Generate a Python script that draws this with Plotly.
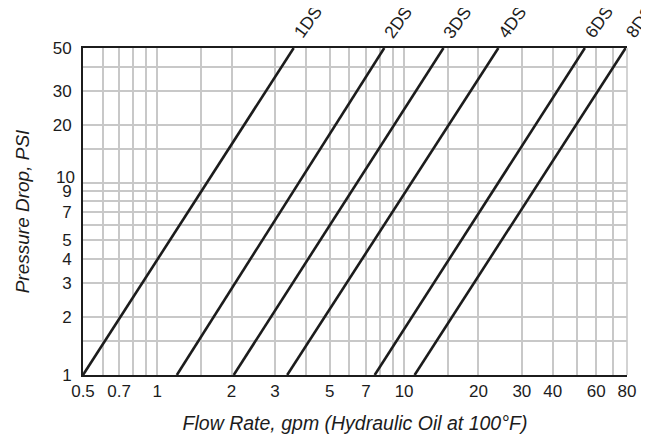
import math
import plotly.graph_objects as go

# ---- data ----
series_names = ["1DS", "2DS", "3DS", "4DS", "6DS", "8DS"]
flow_at_low = [0.5, 1.20, 2.04, 3.36, 7.6, 11.03]      # gpm at 1 PSI
flow_at_high = [3.57, 8.31, 14.44, 24.1, 54.0, 79.0]   # gpm at 50 PSI
pressure_ends = [1, 50]                                # PSI

x_tick_vals = [0.5, 0.7, 1, 2, 3, 5, 7, 10, 20, 30, 40, 60, 80]
x_tick_text = ["0.5", "0.7", "1", "2", "3", "5", "7", "10", "20", "30", "40", "60", "80"]
x_minor_vals = [0.6, 0.8, 0.9, 1.5, 4, 6, 8, 9, 15, 50, 70]
y_tick_vals = [1, 2, 3, 4, 5, 7, 9, 10, 20, 30, 50]
y_tick_text = ["1", "2", "3", "4", "5", "7", "9", "", "20", "30", "50"]
y_nudged_label = ("10", 10)   # drawn slightly above its grid line, as in the reference
y_minor_vals = [1.5, 6, 8, 15, 40]

FONT = "Liberation Sans, Arial, Helvetica, sans-serif"
GRID = "#c8c8c8"
INK = "#1c1c1c"

fig = go.Figure()
for name, x0, x1 in zip(series_names, flow_at_low, flow_at_high):
    fig.add_trace(go.Scatter(
        x=[x0, x1], y=pressure_ends, mode="lines", name=name,
        line=dict(color=INK, width=2.6), showlegend=False, hoverinfo="skip",
    ))
    fig.add_annotation(
        x=math.log10(x1), y=math.log10(pressure_ends[1]), xref="x", yref="y",
        text=name, showarrow=False, textangle=-54,
        xanchor="center", yanchor="middle", xshift=14, yshift=26,
        font=dict(family=FONT, size=17.5, color=INK),
    )

# "10" tick label, nudged up so it clears the "9"
fig.add_annotation(
    x=0, xref="paper", y=math.log10(y_nudged_label[1]), yref="y",
    text=y_nudged_label[0], showarrow=False, xanchor="right", yanchor="middle",
    xshift=-6, yshift=5, font=dict(family=FONT, size=17, color=INK),
)

fig.update_xaxes(
    type="log", range=[math.log10(0.5), math.log10(80)],
    tickmode="array", tickvals=x_tick_vals, ticktext=x_tick_text,
    showgrid=True, gridcolor=GRID, gridwidth=1.6,
    minor=dict(tickmode="array", tickvals=x_minor_vals, showgrid=True,
               gridcolor=GRID, gridwidth=1.6, ticks=""),
    showline=True, linecolor=INK, linewidth=1.8, mirror=True,
    ticks="", zeroline=False,
    tickfont=dict(family=FONT, size=17, color=INK),
    title=dict(text="<i>Flow Rate, gpm (Hydraulic Oil at 100°F)</i>",
               font=dict(family=FONT, size=19.5, color=INK), standoff=16),
)
fig.update_yaxes(
    type="log", range=[0, math.log10(50)],
    tickmode="array", tickvals=y_tick_vals, ticktext=y_tick_text,
    showgrid=True, gridcolor=GRID, gridwidth=1.6,
    minor=dict(tickmode="array", tickvals=y_minor_vals, showgrid=True,
               gridcolor=GRID, gridwidth=1.6, ticks=""),
    showline=True, linecolor=INK, linewidth=1.8, mirror=False,
    ticks="", zeroline=False, ticklabelstandoff=6,
    tickfont=dict(family=FONT, size=17, color=INK),
    title=dict(text="<i>Pressure Drop, PSI</i>",
               font=dict(family=FONT, size=19, color=INK), standoff=18),
)

# light right border as in the reference
fig.add_shape(type="line", xref="paper", yref="paper", x0=1, x1=1, y0=0, y1=1,
              line=dict(color=GRID, width=1.6))

# the page body adds an 8px offset, so the figure is 8px smaller than the window
fig.update_layout(
    width=641, height=432,
    margin=dict(l=75, r=22, t=40, b=65, autoexpand=False),
    paper_bgcolor="white", plot_bgcolor="white",
    font=dict(family=FONT, color=INK),
)

fig.write_html("out.html")
